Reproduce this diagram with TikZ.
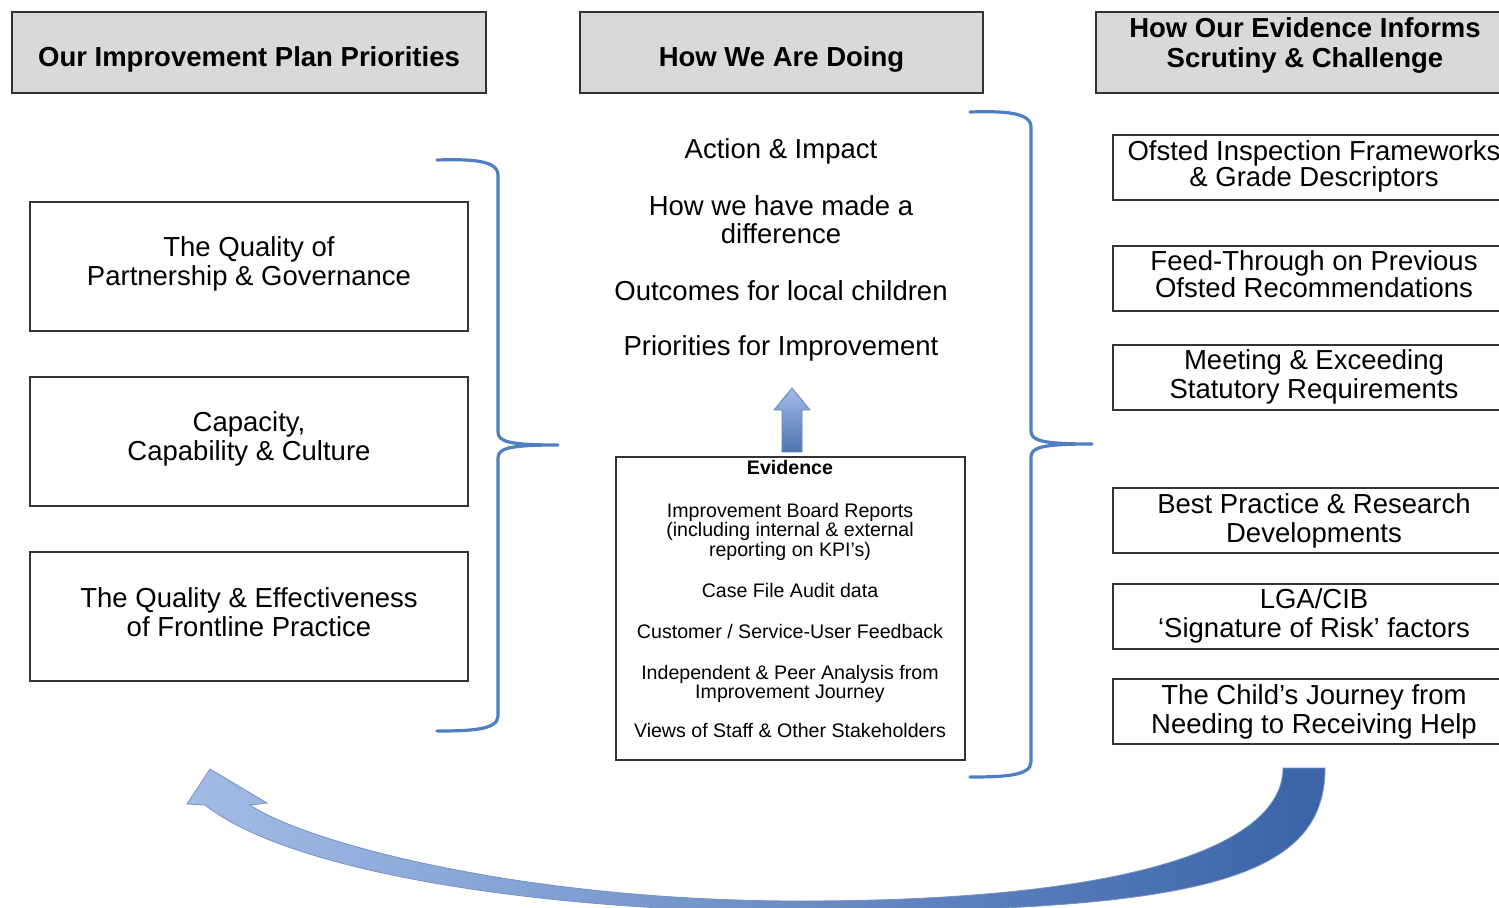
\documentclass[tikz,border=0pt]{standalone}
\usepackage{fontspec}
\setmainfont{Liberation Sans}
\definecolor{hdrfill}{HTML}{D9D9D9}
\definecolor{edgecol}{HTML}{333333}
\definecolor{bracecol}{HTML}{4F7FC0}
\definecolor{arrlight}{HTML}{A3BCE6}
\definecolor{arrmid}{HTML}{5A84C6}
\definecolor{arrdark}{HTML}{3A64A8}
\begin{document}
\begin{tikzpicture}[x=0.5pt,y=-0.5pt,
  hdr/.style={draw=edgecol, line width=1pt, fill=hdrfill, inner sep=0pt, minimum height=40.5pt},
  hdrtxt/.style={inner sep=0pt, align=center, font=\fontsize{13.75pt}{15pt}\selectfont\bfseries},
  box/.style={draw=edgecol, line width=1pt, fill=white, inner sep=0pt},
  txt/.style={inner sep=0pt, align=center, font=\fontsize{13.75pt}{14.5pt}\selectfont},
  evtxt/.style={inner sep=0pt, align=center, font=\fontsize{9.8pt}{9.75pt}\selectfont},
  bracepath/.style={draw=bracecol, line width=1.6pt, line join=round, line cap=round},
  leftbox/.style={box, minimum width=219pt, minimum height=64.5pt},
  rightbox/.style={box, minimum width=201pt, minimum height=32.5pt},
]
\fill[white] (0,0) rectangle (1499,908);
\clip (0,0) rectangle (1499,908);

% headers
\node[hdr, minimum width=237pt] (h1) at (249,52.5) {};
\node[hdrtxt] (h1t) at (249,59.5) {Our Improvement Plan Priorities};
\node[hdr, minimum width=201.5pt] (h2) at (781.5,52.5) {};
\node[hdrtxt] (h2t) at (781.5,59.5) {How We Are Doing};
\node[hdr, minimum width=209pt] (h3) at (1305,52.5) {};
\node[hdrtxt] (h3t) at (1305,45.5) {How Our Evidence Informs\\Scrutiny \& Challenge};

% left column
\node[leftbox] (l1) at (249,266.5) {};
\node[txt] (l1t) at (249,263.5) {The Quality of\\Partnership \& Governance};
\node[leftbox] (l2) at (249,441.5) {};
\node[txt] (l2t) at (249,439) {Capacity,\\Capability \& Culture};
\node[leftbox] (l3) at (249,616.5) {};
\node[txt] (l3t) at (249,612.5) {The Quality \& Effectiveness\\of Frontline Practice};

% middle column texts
\node[txt] (m1) at (781,151) {Action \& Impact};
\node[txt, font=\fontsize{13.75pt}{14pt}\selectfont] (m2) at (781,220) {How we have made a\\difference};
\node[txt] (m3) at (781,291) {Outcomes for local children};
\node[txt] (m4) at (781,348) {Priorities for Improvement};

% evidence box
\node[box, minimum width=174.5pt, minimum height=151.5pt] (ev) at (790.5,608.5) {};
\node[evtxt, anchor=north] (evt) at (790,460) {\textbf{Evidence}\\[11.5pt]
Improvement Board Reports\\(including internal \& external\\reporting on KPI’s)\\[10.75pt]
Case File Audit data\\[10.75pt]
Customer / Service-User Feedback\\[10.75pt]
Independent \& Peer Analysis from\\Improvement Journey\\[9.75pt]
Views of Staff \& Other Stakeholders};

% small up arrow (from the evidence box towards the priorities)
\path[draw=arrdark!80, line width=0.4pt, top color=arrlight, bottom color=arrdark!90]
  (782,452) -- (782,410) -- (774,410) -- (792,388) -- (810,410) -- (802,410) -- (802,452) -- cycle;

% right column
\node[rightbox] (r1) at (1314,168) {};
\node[txt, font=\fontsize{13.75pt}{13pt}\selectfont] (r1t) at (1314,166.5) {Ofsted Inspection Frameworks\\\& Grade Descriptors};
\node[rightbox] (r2) at (1314,278.5) {};
\node[txt, font=\fontsize{13.75pt}{13.5pt}\selectfont] (r2t) at (1314,274.5) {Feed-Through on Previous\\Ofsted Recommendations};
\node[rightbox] (r3) at (1314,377.5) {};
\node[txt] (r3t) at (1314,377) {Meeting \& Exceeding\\Statutory Requirements};
\node[rightbox] (r4) at (1314,520.5) {};
\node[txt] (r4t) at (1314,521) {Best Practice \& Research\\Developments};
\node[rightbox] (r5) at (1314,616.5) {};
\node[txt] (r5t) at (1314,616) {LGA/CIB\\‘Signature of Risk’ factors};
\node[rightbox] (r6) at (1314,711.5) {};
\node[txt] (r6t) at (1314,711.5) {The Child’s Journey from\\Needing to Receiving Help};

% braces
\path[bracepath] (437,160) .. controls (470,159) and (498,160) .. (498,175) -- (498,432)
  .. controls (498,442) and (510,445) .. (558,445)
  .. controls (510,445) and (498,448) .. (498,458) -- (498,716)
  .. controls (498,730) and (470,731) .. (437,731);
\path[bracepath] (970,112) .. controls (1003,111) and (1031,112) .. (1031,127) -- (1031,431)
  .. controls (1031,441) and (1043,444) .. (1092,444)
  .. controls (1043,444) and (1031,447) .. (1031,457) -- (1031,762)
  .. controls (1031,776) and (1003,777) .. (970,777);

% big curved arrow
\path[draw=arrdark!70, line width=0.4pt, left color=arrlight, middle color=arrmid, right color=arrdark]
  (1325,768) .. controls (1325,880) and (1200,912) .. (800,912)
  .. controls (560,912) and (295,876) .. (205,805)
  -- (187,804) -- (210,769) -- (267,803) -- (250,805)
  .. controls (305,842) and (520,901) .. (800,901)
  .. controls (1150,901) and (1283,840) .. (1283,768) -- cycle;
\end{tikzpicture}
\end{document}
